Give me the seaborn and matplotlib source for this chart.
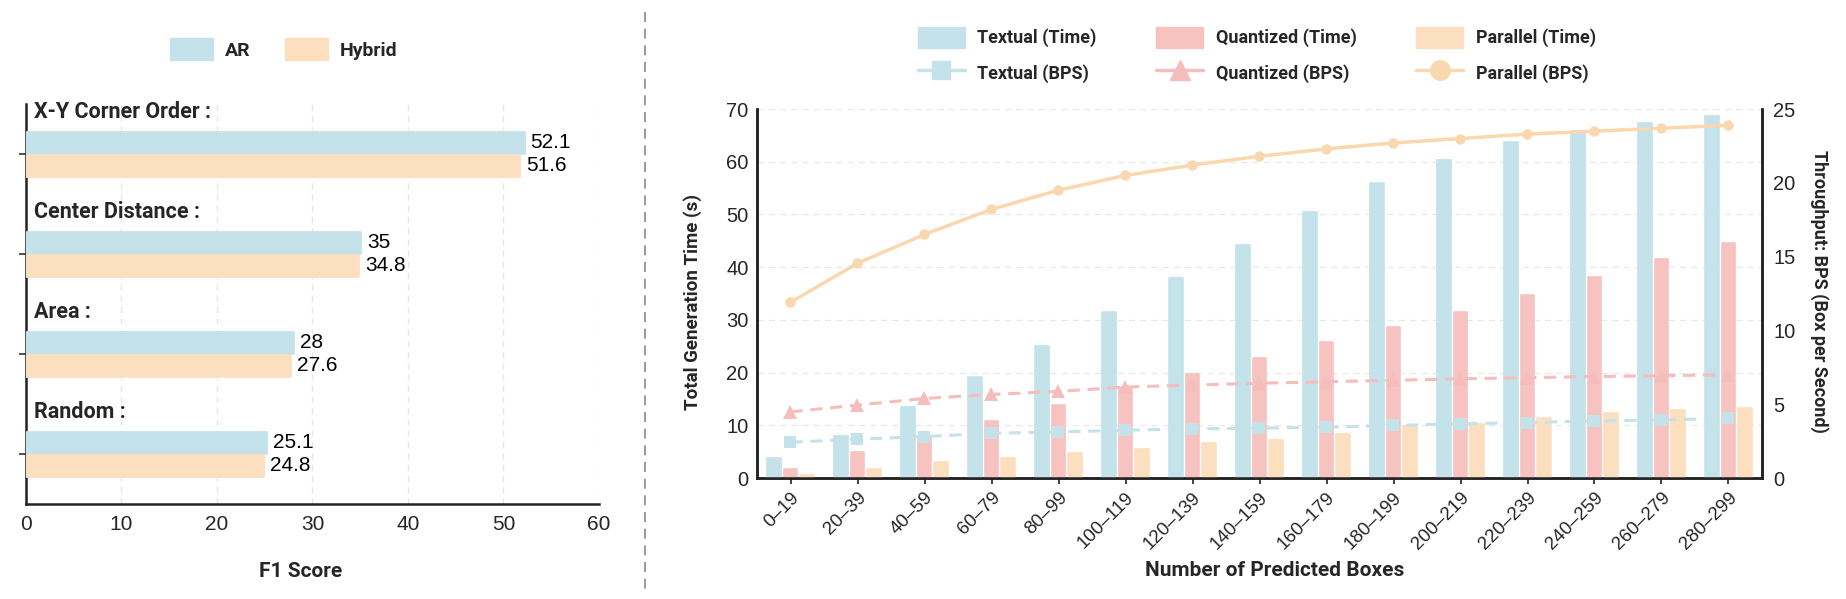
import numpy as np
import pandas as pd
import matplotlib
matplotlib.use("Agg")
import matplotlib.pyplot as plt
import seaborn as sns
from matplotlib.lines import Line2D
from matplotlib.patches import Patch

# ---------------- data ----------------
methods = ["X-Y Corner Order :", "Center Distance :", "Area :", "Random :"]
ar_f1 = [52.1, 35, 28, 25.1]
hybrid_f1 = [51.6, 34.8, 27.6, 24.8]

box_bins = ["0–19", "20–39", "40–59", "60–79", "80–99", "100–119", "120–139",
            "140–159", "160–179", "180–199", "200–219", "220–239", "240–259",
            "260–279", "280–299"]
textual_time = [3.7, 8.0, 13.5, 19.2, 25.0, 31.5, 38.0, 44.2, 50.4, 55.9, 60.4, 63.8, 65.8, 67.4, 68.7]
quantized_time = [1.7, 4.9, 7.9, 10.9, 13.9, 17.3, 19.8, 22.7, 25.8, 28.6, 31.5, 34.8, 38.1, 41.5, 44.6]
parallel_time = [0.6, 1.8, 3.0, 3.7, 4.7, 5.5, 6.6, 7.3, 8.4, 9.8, 10.3, 11.4, 12.3, 12.9, 13.3]
textual_bps = [2.42, 2.63, 2.81, 3.03, 3.12, 3.24, 3.33, 3.38, 3.44, 3.56, 3.67, 3.76, 3.87, 3.93, 4.04]
quantized_bps = [4.48, 4.94, 5.39, 5.66, 5.87, 6.16, 6.30, 6.42, 6.52, 6.62, 6.72, 6.80, 6.87, 6.93, 7.00]
parallel_bps = [11.9, 14.55, 16.5, 18.2, 19.5, 20.5, 21.2, 21.8, 22.3, 22.7, 23.0, 23.3, 23.5, 23.7, 23.9]

BLUE = "#C4E2EA"
PEACH = "#FBDFBF"
PINK = "#F6C3C1"
LBLUE = "#C4E2EA"
LPINK = "#F5BDBB"
LPEACH = "#F9D8B0"

sns.set_theme(style="white")
plt.rcParams["font.family"] = ["Roboto", "DejaVu Sans"]
NUMFONT = "Liberation Sans"
LABFONT = ["Roboto", "DejaVu Sans"]

fig = plt.figure(figsize=(18.46, 5.99), dpi=100)
W, H = 1846, 599

def ax_rect(x0, y0, x1, y1):
    return [x0 / W, 1 - y1 / H, (x1 - x0) / W, (y1 - y0) / H]

# ---------------- left chart ----------------
axL = fig.add_axes(ax_rect(26, 104, 599, 504))
df_f1 = pd.DataFrame({
    "Method": methods * 2,
    "F1": ar_f1 + hybrid_f1,
    "Model": ["AR"] * len(methods) + ["Hybrid"] * len(methods),
})
sns.barplot(data=df_f1, x="F1", y="Method", hue="Model", orient="h", order=methods,
            palette=[BLUE, PEACH], width=0.47, gap=0.12, saturation=1,
            legend=False, ax=axL, zorder=3)
for p in axL.patches:
    p.set_edgecolor(p.get_facecolor())
    p.set_linewidth(2.0)
    p.set_joinstyle("round")
for cont in axL.containers:
    axL.bar_label(cont, labels=[f"{v:g}" for v in cont.datavalues], padding=5,
                  fontsize=15, fontfamily=NUMFONT, color="black")
axL.set_xlim(0, 60)
axL.set_ylim(3.5, -0.5)
axL.set_xticks(range(0, 61, 10))
axL.set_xticklabels([str(v) for v in range(0, 61, 10)], fontsize=15, fontfamily=NUMFONT)
axL.set_yticks(range(len(methods)))
axL.set_yticklabels([])
axL.tick_params(axis="y", length=5, width=1.2, color="#333333", left=True)
axL.tick_params(axis="x", length=0, pad=8)
for i, m in enumerate(methods):
    axL.text(0.8, i - 0.42, m, fontsize=15.5, fontweight="bold", family=LABFONT,
             ha="left", va="center")
for s in ["top", "right"]:
    axL.spines[s].set_visible(False)
for s in ["left", "bottom"]:
    axL.spines[s].set_color("#222222")
    axL.spines[s].set_linewidth(1.8)
axL.xaxis.grid(True, linestyle=(0, (5, 4)), color="#E6E6E6", linewidth=0.9, zorder=0)
axL.set_axisbelow(True)
axL.set_xlabel("F1 Score", fontsize=15, fontweight="bold", family=LABFONT)
axL.xaxis.set_label_coords(0.48, -0.145)
axL.set_ylabel("")

hL = [Patch(facecolor=BLUE, edgecolor=BLUE, label="AR"),
      Patch(facecolor=PEACH, edgecolor=PEACH, label="Hybrid")]
fig.legend(handles=hL, loc="center", bbox_to_anchor=(284 / W, 1 - 49 / H), ncol=2,
           frameon=False, handlelength=2.2, handleheight=1.3, handletextpad=0.6,
           columnspacing=1.8, prop={"family": LABFONT, "weight": "bold", "size": 14})

# ---------------- separator ----------------
fig.add_artist(Line2D([645 / W, 645 / W], [1 - 12 / H, 1 - 590 / H], transform=fig.transFigure,
                      color="#8A8A8A", linestyle=(0, (6, 4)), linewidth=1.2))

# ---------------- right chart ----------------
axR = fig.add_axes(ax_rect(757, 109, 1762, 478))
df_t = pd.DataFrame({
    "Range": box_bins * 3,
    "Time": textual_time + quantized_time + parallel_time,
    "Method": ["Textual"] * len(box_bins) + ["Quantized"] * len(box_bins) + ["Parallel"] * len(box_bins),
})
sns.barplot(data=df_t, x="Range", y="Time", hue="Method", order=box_bins,
            palette=[BLUE, PINK, PEACH], width=0.74, gap=0.2, saturation=1,
            legend=False, ax=axR, zorder=3)
for p in axR.patches:
    p.set_edgecolor(p.get_facecolor())
    p.set_linewidth(1.2)
    p.set_joinstyle("round")
axR.set_ylim(0, 70)
axR.set_yticks(range(0, 71, 10))
axR.set_yticklabels([str(v) for v in range(0, 71, 10)], fontsize=14.5, fontfamily=NUMFONT)
axR.set_xlim(-0.5, len(box_bins) - 0.5)
axR.set_xticks(range(len(box_bins)))
axR.set_xticklabels(box_bins, rotation=45, ha="right", rotation_mode="anchor",
                    fontsize=13.5, fontfamily=NUMFONT)
axR.tick_params(axis="x", length=4, width=1.2, color="#222222", bottom=True, pad=4)
axR.tick_params(axis="y", length=0, pad=6)
axR.yaxis.grid(True, linestyle=(0, (5, 4)), color="#E8E8E8", linewidth=0.9, zorder=0)
axR.set_axisbelow(True)
axR.spines["top"].set_visible(False)
for s in ["left", "bottom", "right"]:
    axR.spines[s].set_color("#222222")
    axR.spines[s].set_linewidth(1.8)
axR.set_xlabel("Number of Predicted Boxes", fontsize=15, fontweight="bold", family=LABFONT)
axR.xaxis.set_label_coords(0.515, -0.225)
axR.set_ylabel("Total Generation Time (s)", fontsize=13.5, fontweight="bold", family=LABFONT,
               va="center", ha="center")
axR.yaxis.set_label_coords(-0.064, 0.477)

ax2 = axR.twinx()
xpos = np.arange(len(box_bins))
sns.lineplot(x=xpos, y=textual_bps, ax=ax2, color=LBLUE, linestyle=(0, (4, 2.5)), linewidth=2.2,
             marker="s", markersize=8.5, markeredgewidth=0)
sns.lineplot(x=xpos, y=quantized_bps, ax=ax2, color=LPINK, linestyle=(0, (4, 2.5)), linewidth=2.2,
             marker="^", markersize=9.5, markeredgewidth=0)
sns.lineplot(x=xpos, y=parallel_bps, ax=ax2, color=LPEACH, linestyle="-", linewidth=2.5,
             marker="o", markersize=7.5, markeredgewidth=0)
ax2.set_ylim(0, 25)
ax2.set_xlim(-0.5, len(box_bins) - 0.5)
ax2.set_yticks(range(0, 26, 5))
ax2.set_yticklabels([str(v) for v in range(0, 26, 5)], fontsize=14.5, fontfamily=NUMFONT)
ax2.tick_params(axis="y", length=0, pad=8)
ax2.grid(False)
ax2.spines["top"].set_visible(False)
for s in ["left", "bottom", "right"]:
    ax2.spines[s].set_color("#222222")
    ax2.spines[s].set_linewidth(1.8)
ax2.set_ylabel("Throughput: BPS (Box per Second)", fontsize=13, fontweight="bold",
               family=LABFONT, rotation=270, va="center", ha="center")
ax2.yaxis.set_label_coords(1.057, 0.505)

hR = [
    Patch(facecolor=BLUE, edgecolor=BLUE, label="Textual (Time)"),
    Line2D([], [], color=LBLUE, marker="s", markersize=13, linewidth=2.5, label="Textual (BPS)"),
    Patch(facecolor=PINK, edgecolor=PINK, label="Quantized (Time)"),
    Line2D([], [], color=LPINK, marker="^", markersize=14, linewidth=2.5, label="Quantized (BPS)"),
    Patch(facecolor=PEACH, edgecolor=PEACH, label="Parallel (Time)"),
    Line2D([], [], color=LPEACH, marker="o", markersize=14, linewidth=2.5, label="Parallel (BPS)"),
]
fig.legend(handles=hR, loc="center", bbox_to_anchor=(1257 / W, 1 - 55 / H), ncol=3,
           frameon=False, handlelength=2.6, handleheight=1.4, handletextpad=0.7,
           columnspacing=3.3, labelspacing=0.8,
           prop={"family": LABFONT, "weight": "bold", "size": 13})

fig.savefig("out.png", dpi=100)
